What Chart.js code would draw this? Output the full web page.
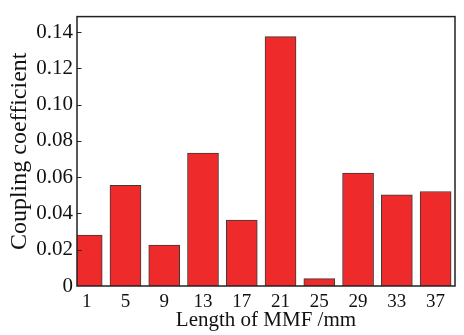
<!DOCTYPE html>
<html>
<head>
<meta charset="utf-8">
<script src="https://cdn.jsdelivr.net/npm/chart.js@4/dist/chart.umd.min.js"></script>
<style>
  body { margin: 0; background: #fff; }
  canvas { display: block; }
</style>
</head>
<body>
<canvas id="grafico" width="464" height="335"></canvas>
<script>
// MMF length (mm) and the coupling coefficient
var comprimentos = [1, 5, 9, 13, 17, 21, 25, 29, 33, 37];
var acoplamento = [0.028, 0.0555, 0.0225, 0.0733, 0.0364, 0.1375, 0.0041, 0.0623, 0.0503, 0.0521];
var ticksX = [1, 5, 9, 13, 17, 21, 25, 29, 33, 37];
var ticksY = [0, 0.02, 0.04, 0.06, 0.08, 0.10, 0.12, 0.14];

var fonte = "'Liberation Serif', 'Times New Roman', serif";

// box around the plot + inward ticks on the y axis
var moldura = {
    id: 'moldura',
    afterDatasetsDraw: function (chart) {
        var ctx = chart.ctx;
        var a = chart.chartArea;
        var y = chart.scales.y;
        ctx.save();
        ctx.strokeStyle = '#222';
        ctx.lineWidth = 1.5;
        ctx.strokeRect(a.left, a.top, a.right - a.left, a.bottom - a.top);
        ctx.lineWidth = 1.2;
        ctx.beginPath();
        for (var i = 1; i < ticksY.length; i++) {
            var py = Math.round(y.getPixelForValue(ticksY[i])) + 0.5;
            ctx.moveTo(a.left, py);
            ctx.lineTo(a.left + 4.5, py);
        }
        ctx.stroke();
        ctx.restore();
    }
};

function showBarChart(canvasName) {
    var ctx = document.getElementById(canvasName).getContext('2d');
    var pontos = [];
    for (var i = 0; i < comprimentos.length; i++)
        pontos.push({ x: comprimentos[i], y: acoplamento[i] });

    return new Chart(ctx, {
        type: 'bar',
        data: {
            datasets: [{
                data: pontos,
                backgroundColor: '#ee2a2a',
                borderColor: '#3a3a3a',
                borderWidth: 1,
                borderSkipped: 'start',
                barThickness: 31,
                clip: 0
            }]
        },
        options: {
            responsive: false,
            animation: false,
            layout: { padding: { left: 0, top: 8, right: 9, bottom: 0 } },
            plugins: {
                legend: { display: false },
                tooltip: { enabled: false }
            },
            scales: {
                x: {
                    type: 'linear',
                    offset: false,
                    min: 0,
                    max: 39,
                    grid: { display: false, drawTicks: false, offset: false },
                    border: { display: false },
                    afterBuildTicks: function (scale) {
                        scale.ticks = ticksX.map(function (v) { return { value: v }; });
                    },
                    afterFit: function (scale) { scale.height = 49; },
                    ticks: {
                        autoSkip: false,
                        maxRotation: 0,
                        padding: 5,
                        color: '#111',
                        font: { family: fonte, size: 19 },
                        callback: function (v) { return String(v); }
                    },
                    title: {
                        display: true,
                        text: 'Length of MMF /mm',
                        color: '#111',
                        font: { family: fonte, size: 21 },
                        padding: { top: 0, bottom: 2 }
                    }
                },
                y: {
                    min: 0,
                    max: 0.1485,
                    grid: { display: false, drawTicks: false },
                    border: { display: false },
                    afterBuildTicks: function (scale) {
                        scale.ticks = ticksY.map(function (v) { return { value: v }; });
                    },
                    afterFit: function (scale) { scale.width = 77; },
                    ticks: {
                        padding: 4,
                        color: '#111',
                        font: { family: fonte, size: 21 },
                        callback: function (v) { return v === 0 ? '0' : v.toFixed(2); }
                    },
                    title: {
                        display: true,
                        text: 'Coupling coefficient',
                        color: '#111',
                        font: { family: fonte, size: 24 },
                        padding: { top: 5, bottom: 0 }
                    }
                }
            }
        },
        plugins: [moldura]
    });
}

showBarChart('grafico');
</script>
</body>
</html>
